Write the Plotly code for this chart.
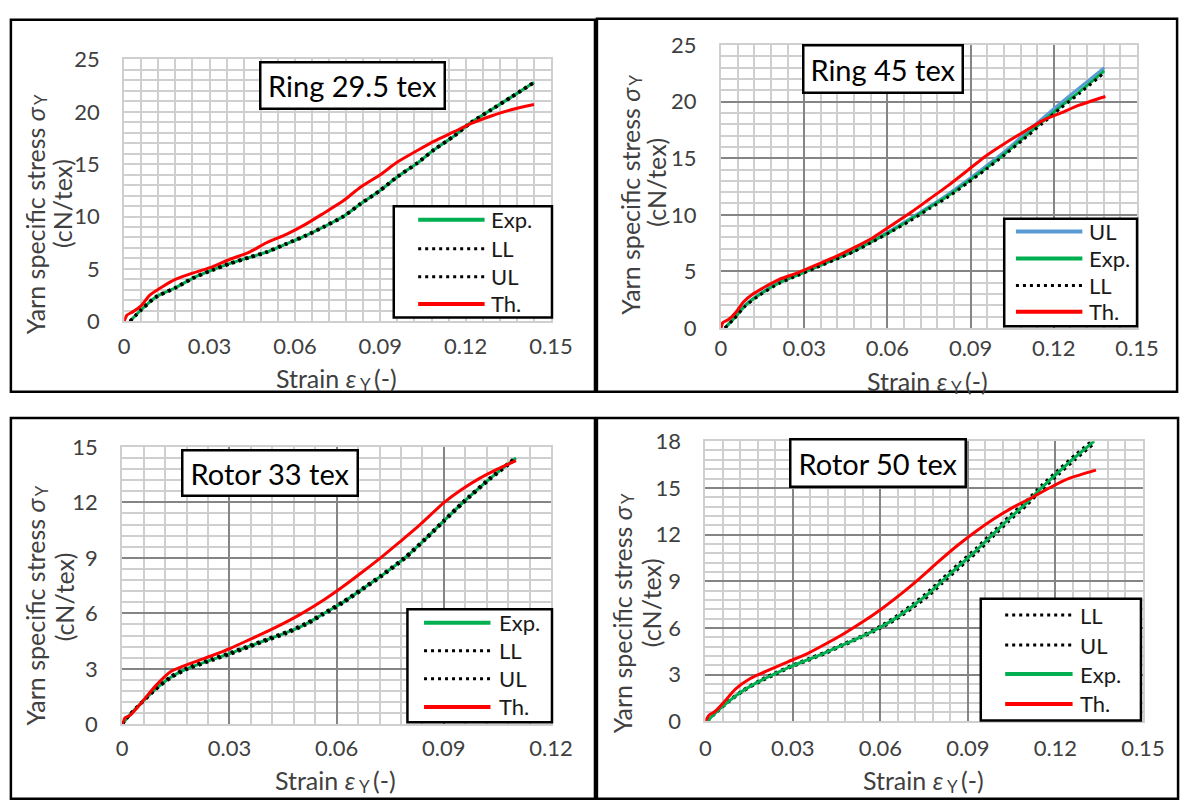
import plotly.graph_objects as go

W, H = 1203, 803
FONT = "Lato, 'Open Sans', sans-serif"

# ------------------------------------------------------------------ data
# Ring 29.5 tex
ring295_strain = [0.002, 0.006, 0.011, 0.018, 0.024, 0.031, 0.037, 0.044, 0.050, 0.057, 0.064, 0.070,
                  0.077, 0.083, 0.090, 0.096, 0.103, 0.109, 0.116, 0.122, 0.129, 0.136, 0.144]
ring295_exp = [0.0, 1.1, 2.3, 3.2, 4.1, 4.9, 5.5, 6.1, 6.6, 7.4, 8.2, 9.0,
               10.0, 11.2, 12.5, 13.8, 15.1, 16.4, 17.7, 19.0, 20.2, 21.4, 22.8]
ring295_ll = [0.0, 1.05, 2.25, 3.15, 4.05, 4.85, 5.45, 6.05, 6.55, 7.35, 8.15, 8.95,
              9.95, 11.15, 12.45, 13.75, 15.05, 16.35, 17.65, 18.95, 20.15, 21.35, 22.75]
ring295_ul = [0.0, 1.15, 2.35, 3.25, 4.15, 4.95, 5.55, 6.15, 6.65, 7.45, 8.25, 9.05,
              10.05, 11.25, 12.55, 13.85, 15.15, 16.45, 17.75, 19.05, 20.25, 21.45, 22.85]
ring295_th_strain = [0.0, 0.001, 0.003, 0.006, 0.009, 0.014, 0.018, 0.024, 0.031, 0.037, 0.044, 0.050, 0.057,
                     0.064, 0.070, 0.077, 0.083, 0.090, 0.096, 0.103, 0.109, 0.116, 0.122, 0.129, 0.136, 0.144]
ring295_th = [0.0, 0.6, 0.9, 1.5, 2.5, 3.4, 4.0, 4.6, 5.2, 5.9, 6.6, 7.5, 8.3,
              9.3, 10.3, 11.5, 12.8, 14.0, 15.2, 16.3, 17.2, 18.1, 18.9, 19.6, 20.2, 20.7]

# Ring 45 tex
ring45_strain = [0.0014, 0.0047, 0.0088, 0.0142, 0.021, 0.0278, 0.0346, 0.0413, 0.048, 0.0549, 0.0617,
                 0.0684, 0.0752, 0.082, 0.0888, 0.0955, 0.1023, 0.109, 0.1158, 0.1226, 0.1294, 0.1382]
ring45_exp = [0.0, 0.85, 2.0, 3.0, 4.0, 4.7, 5.4, 6.1, 6.8, 7.7, 8.6,
              9.6, 10.65, 11.7, 12.9, 14.1, 15.4, 16.8, 18.2, 19.6, 20.9, 22.7]
ring45_ul = [0.0, 0.9, 2.05, 3.05, 4.05, 4.75, 5.45, 6.15, 6.85, 7.75, 8.7,
             9.7, 10.75, 11.85, 13.05, 14.3, 15.6, 17.05, 18.5, 19.9, 21.25, 23.0]
ring45_ll = [0.0, 0.8, 1.95, 2.95, 3.95, 4.65, 5.35, 6.05, 6.75, 7.65, 8.55,
             9.5, 10.55, 11.6, 12.8, 14.0, 15.3, 16.65, 18.05, 19.45, 20.75, 22.55]
ring45_th_strain = [0.0, 0.0007, 0.0027, 0.0054, 0.0081, 0.0115, 0.0156, 0.021, 0.0278, 0.0346, 0.0413, 0.048,
                    0.0549, 0.0617, 0.0684, 0.0752, 0.082, 0.0888, 0.0955, 0.1023, 0.109, 0.1158, 0.1226,
                    0.1294, 0.1386]
ring45_th = [0.0, 0.5, 0.75, 1.4, 2.3, 3.0, 3.6, 4.3, 4.9, 5.6, 6.3, 7.1,
             8.0, 9.1, 10.2, 11.4, 12.6, 13.9, 15.2, 16.3, 17.3, 18.3, 19.0,
             19.7, 20.45]

# Rotor 33 tex
rotor33_strain = [0.0, 0.0021, 0.0052, 0.0094, 0.0136, 0.0180, 0.0252, 0.0304, 0.0356, 0.0409, 0.0461,
                  0.0514, 0.0561, 0.0618, 0.0671, 0.0723, 0.0791, 0.0850, 0.0900, 0.0954, 0.1030, 0.1102]
rotor33_exp = [0.0, 0.52, 1.13, 1.92, 2.55, 3.0, 3.5, 3.85, 4.22, 4.6, 4.97,
               5.42, 5.95, 6.6, 7.3, 8.0, 9.0, 10.05, 11.0, 12.0, 13.3, 14.4]
rotor33_ll = [0.0, 0.5, 1.1, 1.88, 2.5, 2.95, 3.45, 3.8, 4.17, 4.55, 4.92,
              5.37, 5.9, 6.55, 7.25, 7.95, 8.95, 10.0, 10.95, 11.95, 13.25, 14.35]
rotor33_ul = [0.0, 0.54, 1.16, 1.96, 2.6, 3.05, 3.55, 3.9, 4.27, 4.65, 5.02,
              5.47, 6.0, 6.65, 7.35, 8.05, 9.05, 10.1, 11.05, 12.05, 13.35, 14.45]
rotor33_th_strain = [0.0, 0.0008, 0.0021, 0.0052, 0.0094, 0.0136, 0.0199, 0.0252, 0.0304, 0.0356, 0.0409,
                     0.0461, 0.0503, 0.0566, 0.0618, 0.0671, 0.0723, 0.0776, 0.0828, 0.0901, 0.0950,
                     0.1000, 0.1050, 0.1102]
rotor33_th = [0.0, 0.35, 0.47, 1.13, 2.09, 2.85, 3.35, 3.72, 4.12, 4.58, 5.05,
              5.55, 6.0, 6.75, 7.45, 8.22, 9.0, 9.85, 10.7, 12.0, 12.7,
              13.3, 13.8, 14.26]

# Rotor 50 tex
rotor50_strain = [0.0006, 0.0039, 0.0077, 0.0129, 0.0193, 0.0232, 0.0290, 0.0350, 0.0410, 0.0470, 0.0530,
                  0.0595, 0.0650, 0.0710, 0.0765, 0.0811, 0.0870, 0.0930, 0.0985, 0.1040, 0.1100, 0.1152,
                  0.1210, 0.1270, 0.1333]
rotor50_exp = [0.0, 0.62, 1.24, 1.97, 2.65, 3.0, 3.5, 3.95, 4.4, 4.9, 5.4,
               6.0, 6.6, 7.4, 8.2, 9.0, 10.0, 11.0, 12.0, 13.0, 14.0, 15.0,
               16.0, 17.0, 18.0]
rotor50_ll = [0.0, 0.6, 1.2, 1.93, 2.6, 2.95, 3.45, 3.9, 4.35, 4.85, 5.35,
              5.93, 6.5, 7.28, 8.06, 8.85, 9.85, 10.85, 11.85, 12.85, 13.85, 14.85,
              15.85, 16.85, 17.85]
rotor50_ul = [0.0, 0.64, 1.28, 2.01, 2.7, 3.05, 3.55, 4.0, 4.45, 4.95, 5.45,
              6.07, 6.7, 7.52, 8.34, 9.15, 10.15, 11.15, 12.15, 13.15, 14.15, 15.15,
              16.15, 17.15, 18.15]
rotor50_th_strain = [0.0, 0.0013, 0.0032, 0.0064, 0.0103, 0.0154, 0.0219, 0.0283, 0.0348, 0.0412, 0.0476,
                     0.0541, 0.0605, 0.0670, 0.0734, 0.0798, 0.0863, 0.0927, 0.0991, 0.1056, 0.1120,
                     0.1184, 0.1249, 0.1339]
rotor50_th = [0.0, 0.41, 0.62, 1.24, 2.07, 2.75, 3.31, 3.83, 4.34, 4.97, 5.65,
              6.41, 7.24, 8.17, 9.17, 10.24, 11.28, 12.2, 13.03, 13.76, 14.38,
              15.04, 15.62, 16.14]

# tick values / labels
x_ticks_015 = [0, 0.03, 0.06, 0.09, 0.12, 0.15]
x_labels_015 = ["0", "0.03", "0.06", "0.09", "0.12", "0.15"]
x_ticks_012 = [0, 0.03, 0.06, 0.09, 0.12]
x_labels_012 = ["0", "0.03", "0.06", "0.09", "0.12"]
y_ticks_25 = [0, 5, 10, 15, 20, 25]
y_ticks_15 = [0, 3, 6, 9, 12, 15]
y_ticks_18 = [0, 3, 6, 9, 12, 15, 18]

titles = ["Ring 29.5 tex", "Ring 45 tex", "Rotor 33 tex", "Rotor 50 tex"]
y_title_main = "Yarn specific stress <i>σ</i>"
y_title_sub = "Y"
y_title_unit = "(cN/tex)"
x_title_main = "Strain <i>ε</i>"
x_title_sub = "Y"
x_title_unit = "(-)"

# ------------------------------------------------------------------ styles
MINOR = "#cfcfcf"
MAJOR_DARK = "#858585"
TEXT_GREY = "#404040"
STY = {
    "Exp.": dict(color="#00b050", width=3),
    "LL": dict(color="#000000", width=3, dash="3px,4px"),
    "UL": dict(color="#000000", width=3, dash="3px,4px"),
    "Th.": dict(color="#ff0000", width=3),
    "UL_blue": dict(color="#5b9bd5", width=3),
}
TICK_SIZE = 22
TITLE_SIZE = 25
SUB_SIZE = 17
LEG_SIZE = 22
BOX_SIZE = 29


def fx(px):
    return px / W


def fy(py):
    return 1 - py / H


panels = [
    dict(title=titles[0], plot=(121, 47, 558, 318), xmax=0.15, xt=(x_ticks_015, x_labels_015),
         ymax=25, yt=y_ticks_25, yminor=1, dark=False, xstand=4,
         series=[("Exp.", "Exp.", ring295_strain, ring295_exp), ("LL", "LL", ring295_strain, ring295_ll),
                 ("UL", "UL", ring295_strain, ring295_ul), ("Th.", "Th.", ring295_th_strain, ring295_th)],
         box=(262, 50, 447, 97), legend=(397, 199, 559, 314), rows=[213, 243, 272, 300],
         sample=(422, 490), text_x=496, ytl=(30, 58, 82, 196), xtc=(339, 377), frame=(5, 6, 603, 391)),
    dict(title=titles[1], plot=(732, 32, 1158, 325), xmax=0.15, xt=(x_ticks_015, x_labels_015),
         ymax=25, yt=y_ticks_25, yminor=1, dark=True, xstand=0,
         series=[("UL", "UL_blue", ring45_strain, ring45_ul), ("Exp.", "Exp.", ring45_strain, ring45_exp),
                 ("LL", "LL", ring45_strain, ring45_ll), ("Th.", "Th.", ring45_th_strain, ring45_th)],
         box=(818, 33, 978, 81), legend=(1022, 212, 1158, 323), rows=[225, 253, 281, 308],
         sample=(1034, 1102), text_x=1108, ytl=(638, 666, 62, 174), xtc=(944, 380), frame=(605, 5, 1199, 391)),
    dict(title=titles[2], plot=(119, 448, 558, 735), xmax=0.12, xt=(x_ticks_012, x_labels_012),
         ymax=15, yt=y_ticks_15, yminor=0.6, dark=True, xstand=3,
         series=[("Exp.", "Exp.", rotor33_strain, rotor33_exp), ("LL", "LL", rotor33_strain, rotor33_ll),
                 ("UL", "UL", rotor33_strain, rotor33_ul), ("Th.", "Th.", rotor33_th_strain, rotor33_th)],
         box=(182, 452, 358, 498), legend=(411, 616, 559, 733), rows=[630, 659, 688, 717],
         sample=(428, 496), text_x=504, ytl=(30, 59, 487, 603), xtc=(338, 793), frame=(5, 418, 603, 812)),
    dict(title=titles[3], plot=(716, 442, 1164, 732), xmax=0.15, xt=(x_ticks_015, x_labels_015),
         ymax=18, yt=y_ticks_18, yminor=0.6, dark=True, xstand=6,
         series=[("LL", "LL", rotor50_strain, rotor50_ll), ("UL", "UL", rotor50_strain, rotor50_ul),
                 ("Exp.", "Exp.", rotor50_strain, rotor50_exp), ("Th.", "Th.", rotor50_th_strain, rotor50_th)],
         box=(805, 441, 981, 489), legend=(998, 605, 1162, 731), rows=[622, 653, 683, 714],
         sample=(1023, 1092), text_x=1099, ytl=(631, 660, 495, 609), xtc=(940, 793), frame=(605, 418, 1200, 812)),
]

fig = go.Figure()
shapes = []
annotations = []


def text_ann(text, x, y, xa, ya, size, color=TEXT_GREY, angle=0):
    return dict(text=text, xref="paper", yref="paper", x=fx(x), y=fy(y), xanchor=xa, yanchor=ya,
                showarrow=False, textangle=angle, borderpad=0,
                font=dict(family=FONT, size=size, color=color))


for i, p in enumerate(panels):
    sx = "" if i == 0 else str(i + 1)
    x0, y0, x1, y1 = p["plot"]
    for name, sty, xs, ys in p["series"]:
        fig.add_trace(go.Scatter(
            x=xs, y=ys, name=name, mode="lines", xaxis="x" + sx, yaxis="y" + sx,
            line=dict(shape="spline", smoothing=0.6, **STY[sty]), showlegend=False,
            hoverinfo="skip"))

    major = MAJOR_DARK if p["dark"] else MINOR
    tickfont = dict(family=FONT, size=TICK_SIZE, color=TEXT_GREY)
    common = dict(showgrid=True, gridcolor=major, gridwidth=1.5, zeroline=False,
                  showline=True, linecolor=MINOR, linewidth=2, mirror=True,
                  ticks="", tickfont=tickfont, fixedrange=True)
    fig.update_layout({
        "xaxis" + sx: dict(domain=[fx(x0), fx(x1)], range=[0, p["xmax"]], anchor="y" + sx,
                           tickmode="array", tickvals=p["xt"][0], ticktext=p["xt"][1],
                           minor=dict(tick0=0, dtick=0.006, showgrid=True, gridcolor=MINOR, gridwidth=2),
                           ticklabelstandoff=p["xstand"], **common),
        "yaxis" + sx: dict(domain=[fy(y1), fy(y0)], range=[0, p["ymax"]], anchor="x" + sx,
                           tickmode="array", tickvals=p["yt"], ticktext=[str(v) for v in p["yt"]],
                           minor=dict(tick0=0, dtick=p["yminor"], showgrid=True, gridcolor=MINOR, gridwidth=2),
                           ticklabelstandoff=18, **common),
    })

    # panel frame
    fx0, fy0, fx1, fy1 = p["frame"]
    shapes.append(dict(type="rect", xref="paper", yref="paper", x0=fx(fx0), x1=fx(fx1),
                       y0=fy(fy1), y1=fy(fy0), line=dict(color="black", width=2.5), layer="above"))

    # title box
    bx0, by0, bx1, by1 = p["box"]
    annotations.append(dict(text=p["title"], xref="paper", yref="paper",
                            x=fx((bx0 + bx1) / 2), y=fy((by0 + by1) / 2), xanchor="center", yanchor="middle",
                            showarrow=False, font=dict(family=FONT, size=BOX_SIZE, color="black"),
                            bgcolor="white", bordercolor="black", borderwidth=2.5, borderpad=0,
                            width=bx1 - bx0 - 3, height=by1 - by0 - 3))

    # legend box
    lx0, ly0, lx1, ly1 = p["legend"]
    shapes.append(dict(type="rect", xref="paper", yref="paper", x0=fx(lx0), x1=fx(lx1),
                       y0=fy(ly1), y1=fy(ly0), line=dict(color="black", width=2.5),
                       fillcolor="white", layer="above"))
    for (name, sty, _, _), ry in zip(p["series"], p["rows"]):
        st = STY[sty]
        ln = dict(color=st["color"], width=4 if "dash" not in st else 3)
        if "dash" in st:
            ln["dash"] = st["dash"]
        shapes.append(dict(type="line", xref="paper", yref="paper",
                           x0=fx(p["sample"][0]), x1=fx(p["sample"][1]), y0=fy(ry), y1=fy(ry),
                           line=ln, layer="above"))
        annotations.append(text_ann(name, p["text_x"], ry, "left", "middle", LEG_SIZE, "#1a1a1a"))

    # y-axis title: two rotated lines, subscript as its own small text
    l1x, l2x, top_end, l2c = p["ytl"]
    annotations.append(text_ann(y_title_sub, l1x + 6, top_end, "center", "top", SUB_SIZE, angle=-90))
    annotations.append(text_ann(y_title_main, l1x, top_end + 12, "center", "top", TITLE_SIZE, angle=-90))
    annotations.append(text_ann(y_title_unit, l2x, l2c, "center", "middle", TITLE_SIZE, angle=-90))

    # x-axis title
    cx, cy = p["xtc"]
    annotations.append(text_ann(x_title_main, cx + 21, cy, "right", "middle", TITLE_SIZE))
    annotations.append(text_ann(x_title_sub, cx + 22, cy + 6, "left", "middle", SUB_SIZE))
    annotations.append(text_ann(x_title_unit, cx + 37, cy, "left", "middle", TITLE_SIZE))

fig.update_layout(width=W, height=H, margin=dict(l=0, r=0, t=0, b=0, pad=0),
                  paper_bgcolor="white", plot_bgcolor="white", showlegend=False,
                  shapes=shapes, annotations=annotations, font=dict(family=FONT))

fig.write_html("out.html", include_plotlyjs=True, config={"displayModeBar": False})
